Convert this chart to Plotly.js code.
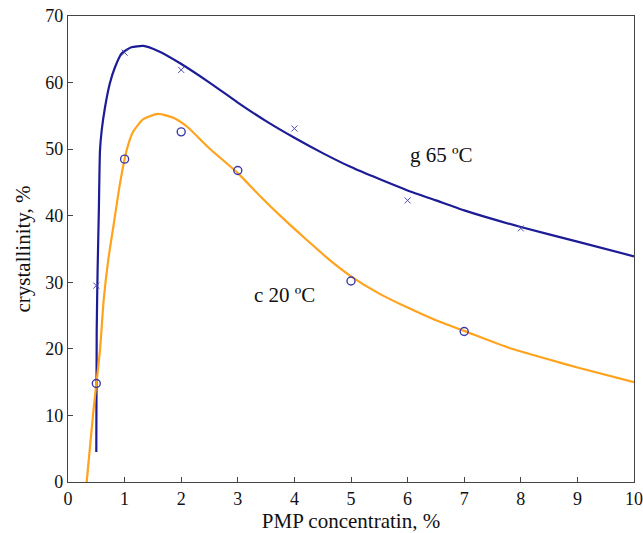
<!DOCTYPE html>
<html><head><meta charset="utf-8">
<script src="https://cdn.plot.ly/plotly-3.0.1.min.js"></script>
<style>body{margin:0;background:#fff}#c{width:643px;height:533px}</style>
</head><body><div id="c"></div>
<script>
const fit65X = [0.5, 0.507, 0.523, 0.545, 0.565, 0.595, 0.654, 0.74, 0.83, 0.95, 1.12, 1.33, 1.6, 1.98, 2.5, 3, 3.5, 4, 4.5, 5, 5.5, 6, 6.5, 7, 8, 9, 10];
const fit65Y = [4.5, 22.8, 31.8, 40.8, 49.8, 52.8, 56.3, 59.9, 62.3, 64.4, 65.3, 65.5, 64.7, 62.9, 60, 57, 54.2, 51.7, 49.4, 47.3, 45.5, 43.8, 42.3, 40.8, 38.3, 36.1, 33.9];
const fit20X = [0.33, 0.45, 0.565, 0.63, 0.71, 0.8, 0.92, 1.035, 1.15, 1.33, 1.59, 1.86, 2.1, 2.5, 3, 3.4, 3.8, 4.2, 4.63, 5, 5.5, 6, 6.5, 7, 7.81, 8.5, 9, 10];
const fit20Y = [0, 10.8, 19.8, 27.3, 33.3, 38.3, 44.9, 49.8, 52.6, 54.5, 55.3, 54.7, 53.4, 50.1, 46.4, 42.9, 39.6, 36.5, 33.3, 30.9, 28.3, 26.2, 24.3, 22.7, 20.1, 18.4, 17.2, 15];
const obs65X = [0.5, 1, 2, 4, 6, 8];
const obs65Y = [29.5, 64.5, 61.9, 53.1, 42.3, 38.1];
const obs20X = [0.5, 1, 2, 3, 5, 7];
const obs20Y = [14.8, 48.5, 52.6, 46.8, 30.2, 22.6];
const labels = ['g 65 ºC', 'c 20 ºC'];

const serif = 'Liberation Serif, Times New Roman, serif';
const traces = [
  {x: fit65X, y: fit65Y, mode: 'lines', line: {color: '#1c1c96', width: 2.2, shape: 'spline', smoothing: 0.5}, hoverinfo: 'none'},
  {x: fit20X, y: fit20Y, mode: 'lines', line: {color: '#ffa21c', width: 2.2, shape: 'spline', smoothing: 0.6}, hoverinfo: 'none'},
  {x: obs65X, y: obs65Y, mode: 'markers', marker: {symbol: 'x-thin-open', size: 6, color: '#4c4cb8', line: {width: 1, color: '#4c4cb8'}}},
  {x: obs20X, y: obs20Y, mode: 'markers', marker: {symbol: 'circle-open', size: 8, color: '#3a3aaa', line: {width: 1.4, color: '#3a3aaa'}}}
];
const axisCommon = {
  showgrid: false, zeroline: false, showline: true, mirror: true,
  linecolor: '#444', linewidth: 1.2, ticks: 'inside', ticklen: 5, tickcolor: '#444',
  tickfont: {family: serif, size: 18, color: '#111'}
};
const layout = {
  width: 643, height: 533,
  margin: {l: 68, r: 9, t: 16, b: 51},
  paper_bgcolor: '#fff', plot_bgcolor: '#fff',
  showlegend: false,
  xaxis: Object.assign({}, axisCommon, {range: [0, 10], dtick: 1, tick0: 0, automargin: false,
    title: {text: 'PMP concentratin, %', standoff: 8, font: {family: serif, size: 21, color: '#111'}}}),
  yaxis: Object.assign({}, axisCommon, {range: [0, 70], dtick: 10, tick0: 0, automargin: false,
    title: {text: 'crystallinity, %', standoff: 8, font: {family: serif, size: 21, color: '#111'}}}),
  annotations: [
    {x: 6.6, y: 49.1, text: labels[0], showarrow: false, font: {family: serif, size: 21, color: '#111'}},
    {x: 3.82, y: 28.1, text: labels[1], showarrow: false, font: {family: serif, size: 21, color: '#111'}}
  ]
};
Plotly.newPlot('c', traces, layout, {displayModeBar: false, staticPlot: true});
</script></body></html>
